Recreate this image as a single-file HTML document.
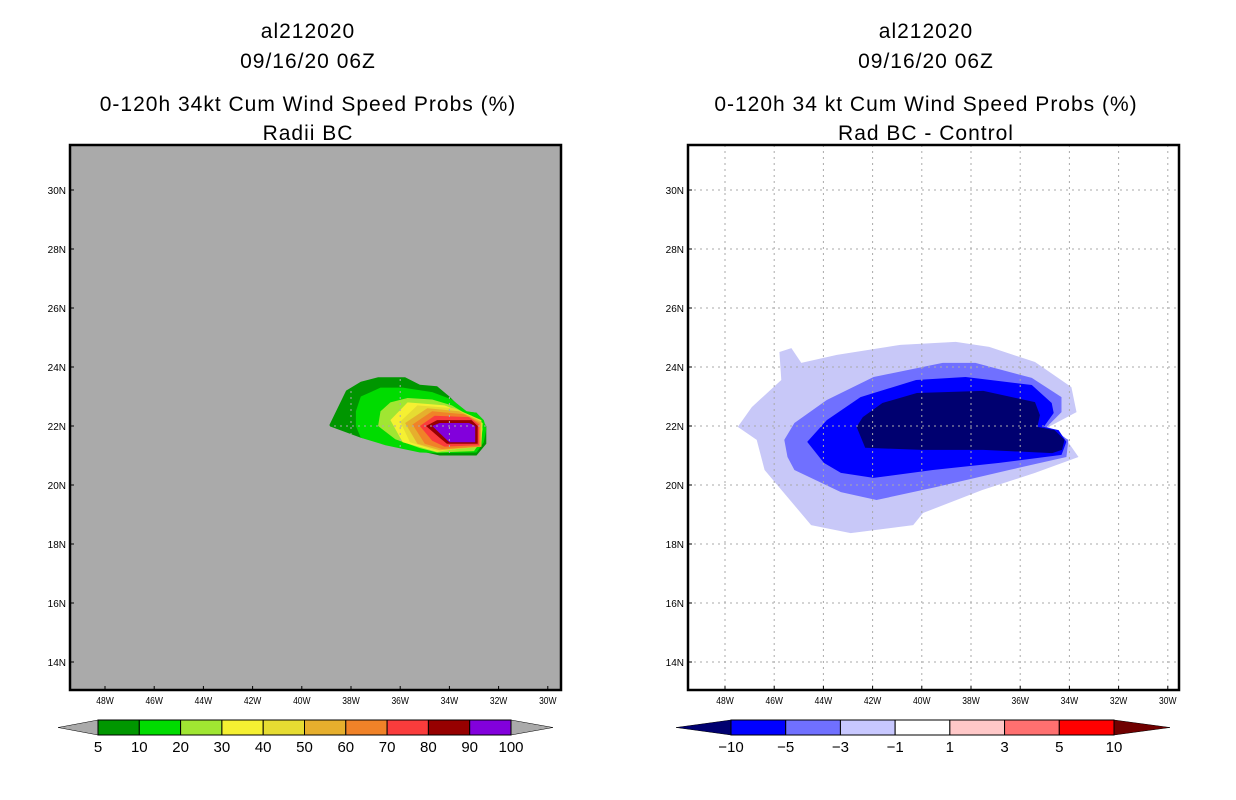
<!DOCTYPE html>
<html><head><meta charset="utf-8">
<style>
body{margin:0;background:#fff;}
svg{display:block;font-family:"Liberation Sans",sans-serif;}
</style></head>
<body>
<svg id="fig" width="1236" height="800" viewBox="0 0 1236 800"></svg>
<script>
// ---- data ----
const latTicks=[30,28,26,24,22,20,18,16,14];
const lonTicks=[48,46,44,42,40,38,36,34,32,30];
const probLevels=["5","10","20","30","40","50","60","70","80","90","100"];
const probColors=["#009600","#00dc00","#a0e632","#f5f032","#e6dc32","#e6af2d","#f08228","#fa3c3c","#960000","#8200dc"];
const diffLevels=["-10","-5","-3","-1","1","3","5","10"];
const diffColors=["#0000ff","#7070ff","#c8c8ff","#ffffff","#ffc8c8","#ff7070","#ff0000"];
// contour polygons [lonW, latN]
const p5=[[38.9,22.0],[38.2,23.2],[37.6,23.5],[36.9,23.65],[35.8,23.65],[35.2,23.4],[34.5,23.35],[34.0,23.0],[33.4,22.5],[32.9,22.45],[32.5,22.0],[32.5,21.4],[32.9,21.0],[34.4,21.0],[36.0,21.3],[37.6,21.6]];
const p10=[[37.8,22.0],[37.8,22.5],[37.6,23.0],[37.2,23.15],[36.8,23.3],[35.9,23.3],[34.7,23.15],[33.9,22.9],[33.3,22.5],[32.9,22.45],[32.6,22.2],[32.5,21.9],[32.6,21.45],[32.9,21.1],[34.4,21.08],[35.2,21.1],[36.6,21.35],[37.6,21.6]];
const p20=[[36.9,22.0],[36.8,22.5],[36.4,22.8],[35.7,22.95],[34.7,22.9],[33.9,22.7],[33.3,22.4],[32.8,22.2],[32.65,21.9],[32.75,21.45],[33.0,21.15],[34.5,21.1],[35.2,21.25],[36.2,21.55]];
const p30=[[36.4,22.2],[35.7,22.8],[34.2,22.7],[33.1,22.35],[32.65,22.1],[32.7,21.35],[34.5,21.13],[35.9,21.45]];
const p40=[[36.0,22.15],[35.3,22.7],[33.8,22.6],[32.7,22.2],[32.7,21.3],[34.5,21.15],[35.6,21.45]];
const p50=[[35.8,22.1],[34.9,22.6],[33.6,22.5],[32.7,22.15],[32.7,21.3],[34.4,21.18],[35.3,21.4]];
const p60=[[35.5,22.05],[34.7,22.5],[33.4,22.4],[32.75,22.1],[32.75,21.3],[34.3,21.22],[35.0,21.4]];
const p70=[[35.2,22.0],[34.6,22.35],[33.2,22.3],[32.8,22.05],[32.8,21.35],[34.2,21.3],[34.7,21.5]];
const p80=[[34.95,22.0],[34.5,22.2],[33.1,22.2],[32.85,22.0],[32.85,21.4],[34.1,21.4],[34.4,21.6]];
const p90=[[34.7,22.0],[34.4,22.1],[33.2,22.1],[32.95,22.0],[32.95,21.45],[34.0,21.45],[34.2,21.6]];
const dm1=[[47.48,21.97],[46.91,22.64],[45.71,23.56],[45.79,24.51],[45.3,24.64],[44.9,24.14],[43.45,24.41],[40.88,24.75],[38.62,24.85],[37.26,24.68],[35.4,24.17],[33.92,23.32],[33.71,22.47],[34.84,21.97],[34.2,21.63],[33.63,20.95],[35.4,20.41],[37.54,19.83],[39.95,19.05],[40.35,18.64],[42.89,18.37],[44.5,18.64],[46.39,20.51],[46.71,21.53]];
const dm3=[[45.59,21.53],[45.18,22.1],[43.86,22.88],[41.96,23.66],[39.15,24.14],[37.82,24.14],[35.53,23.63],[34.32,22.98],[34.32,22.47],[34.92,21.97],[34.04,21.53],[34.12,20.95],[36.45,20.51],[39.43,19.93],[41.84,19.49],[43.29,19.76],[45.18,20.51],[45.46,20.95]];
const dm5=[[44.66,21.46],[43.86,22.2],[42.49,22.98],[40.23,23.56],[38.22,23.66],[35.53,23.39],[34.72,22.78],[34.64,22.44],[35.04,21.97],[34.44,21.86],[34.12,21.46],[34.32,21.02],[36.85,20.75],[39.55,20.51],[41.96,20.24],[43.29,20.41],[43.98,20.75]];
const dm10=[[42.65,21.97],[42.4,22.3],[41.6,22.78],[40.2,23.12],[37.5,23.19],[35.4,22.81],[35.2,22.37],[35.3,21.97],[34.6,21.86],[34.2,21.53],[34.3,21.19],[34.7,21.08],[37.5,21.19],[40.0,21.19],[42.3,21.26]];
const leftLayers=[p5,p10,p20,p30,p40,p50,p60,p70,p80,p90];
const rightLayers=[dm1,dm3,dm5,dm10];
const rightColors=["#c8c8f8","#7070ff","#0000ff","#000070"];
// ---- drawing ----
const NS="http://www.w3.org/2000/svg";
const svg=document.getElementById('fig');
function mk(tag,attrs,parent){const e=document.createElementNS(NS,tag);for(const k in attrs)e.setAttribute(k,attrs[k]);(parent||svg).appendChild(e);return e;}
function panel(x0,frameL,frameR,bg,gridCol,layers,colors,name){
  const xs=lon=>x0+(48-lon)*24.6;
  const ys=lat=>190+(30-lat)*29.5;
  const g=mk('g',{});
  
  
  const bgr=mk('rect',{x:frameL,y:145,width:frameR-frameL,height:545,fill:bg},g);
  
  
  layers.forEach((poly,i)=>{
    const p=mk('polygon',{points:poly.map(q=>xs(q[0]).toFixed(1)+','+ys(q[1]).toFixed(1)).join(' '),fill:colors[i]},g);
    
    
  });
  lonTicks.forEach(l=>{
    const x=xs(l);
    const ln=mk('line',{x1:x,x2:x,y1:145,y2:690,stroke:gridCol,'stroke-width':1,'stroke-dasharray':'2,4'},g);
    
    
    mk('line',{x1:x,x2:x,y1:686,y2:690,stroke:'#000','stroke-width':1},g);
    const t=mk('text',{x:x,y:704,'font-size':10,'text-anchor':'middle',fill:'#000',transform:`translate(${x},704) scale(0.85,1) translate(${-x},-704)`},g);
    t.textContent=l+'W';
    
    
  });
  latTicks.forEach(l=>{
    const y=ys(l);
    const ln=mk('line',{x1:frameL,x2:frameR,y1:y,y2:y,stroke:gridCol,'stroke-width':1,'stroke-dasharray':'2,4'},g);
    
    
    mk('line',{x1:frameL,x2:frameL+4,y1:y,y2:y,stroke:'#000','stroke-width':1},g);
    const t=mk('text',{x:frameL-4,y:y+4,'font-size':10,'text-anchor':'end',fill:'#000'},g);
    t.textContent=l+'N';
    
    
  });
  const fr=mk('rect',{x:frameL,y:145,width:frameR-frameL,height:545,fill:'none',stroke:'#000','stroke-width':2.5},g);
  
  
}
panel(105,70,561,'#aaaaaa','#aaaaaa',leftLayers,probColors,'left-panel');
panel(725,688,1179,'#ffffff','#aaaaaa',rightLayers,rightColors,'right-panel');
// titles
function title(cx,lines){
  lines.forEach((s,i)=>{
    const t=mk('text',{x:cx,y:[38,68,111,140][i],'font-size':21,'text-anchor':'middle',fill:'#000','letter-spacing':'1'});
    t.textContent=s;
    
    
  });
}
title(308,["al212020","09/16/20 06Z","0-120h 34kt Cum Wind Speed Probs (%)","Radii BC"]);
title(926,["al212020","09/16/20 06Z","0-120h 34 kt Cum Wind Speed Probs (%)","Rad BC - Control"]);
// colorbars
function colorbar(x0,x1,tl,tr,colors,labels,leftTri,rightTri,name){
  const g=mk('g',{});
  
  
  const w=(x1-x0)/colors.length;
  mk('polygon',{points:`${tl},727.5 ${x0},720 ${x0},735`,fill:leftTri,stroke:'#000','stroke-width':0.5},g);
  mk('polygon',{points:`${tr},727.5 ${x1},720 ${x1},735`,fill:rightTri,stroke:'#000','stroke-width':0.5},g);
  colors.forEach((c,i)=>{
    const r=mk('rect',{x:x0+i*w,y:720,width:w,height:15,fill:c,stroke:'#000','stroke-width':1},g);
    
    
  });
  labels.forEach((s,i)=>{
    const t=mk('text',{x:x0+i*w,y:752,'font-size':15,'text-anchor':'middle',fill:'#000'},g);
    t.textContent=s.replace('-','\u2212');
    
    
  });
}
colorbar(98,511,58,553,probColors,probLevels,'#aaaaaa','#aaaaaa','left-colorbar');
colorbar(731,1114,676,1170,diffColors,diffLevels,'#000070','#700000','right-colorbar');
</script>
</body></html>
